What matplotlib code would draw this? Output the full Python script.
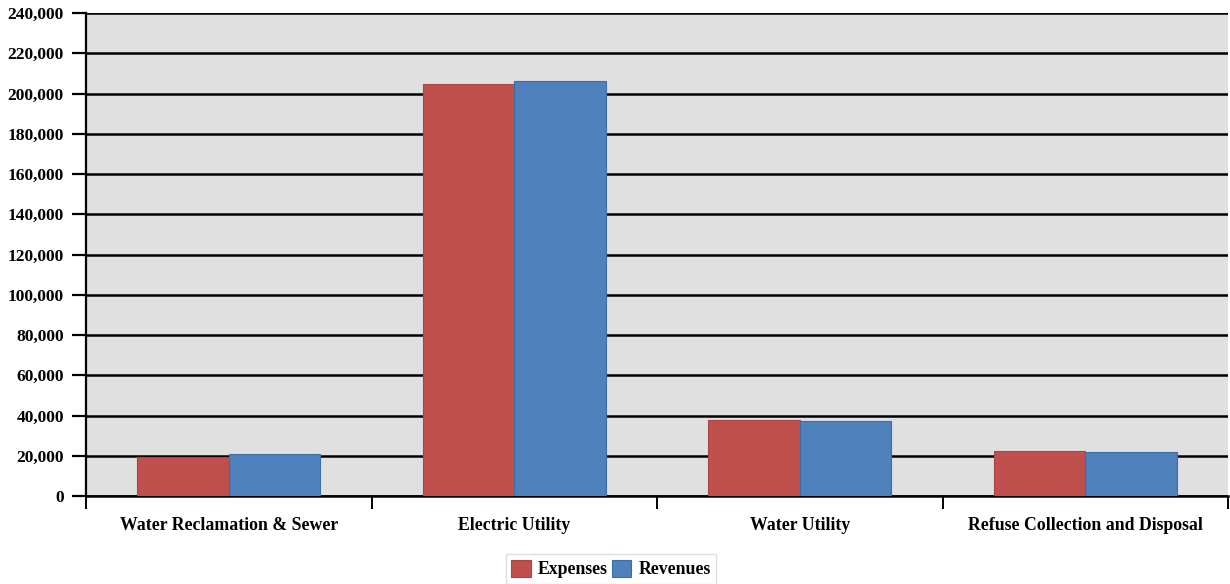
import matplotlib.pyplot as plt
import numpy as np
from matplotlib.ticker import FuncFormatter

categories = ['Water Reclamation & Sewer', 'Electric Utility', 'Water Utility',
              'Refuse Collection and Disposal']
expenses = [19500, 204600, 37800, 22500]
revenues = [20700, 206200, 37100, 21900]

plt.rcParams['font.family'] = ['Liberation Serif', 'DejaVu Serif']
plt.rcParams['font.weight'] = 'bold'

fig = plt.figure(figsize=(12.3, 5.84), dpi=100)
ax = fig.add_axes([86 / 1230, 88 / 584, 1142 / 1230, 483 / 584])
ax.set_facecolor('#e0e0e0')

x = np.arange(len(categories))
w = 0.32
ax.bar(x - w / 2, expenses, w, color='#c0504d', edgecolor='#a94543', linewidth=0.8,
       label='Expenses', zorder=3)
ax.bar(x + w / 2, revenues, w, color='#4f81bd', edgecolor='#3f6ea6', linewidth=0.8,
       label='Revenues', zorder=3)

ax.set_xlim(-0.5, len(categories) - 0.5)
ax.set_ylim(0, 240000)
ax.set_yticks(np.arange(0, 240001, 20000))
ax.yaxis.set_major_formatter(FuncFormatter(lambda v, p: f'{int(v):,}'))
ax.grid(axis='y', color='black', linewidth=1.8, zorder=1)
ax.set_axisbelow(True)

ax.set_xticks(x)
ax.set_xticklabels(categories, fontsize=12.8, fontweight='bold')
ax.set_xticks(np.arange(-0.5, len(categories), 1), minor=True)
ax.tick_params(axis='x', which='major', length=0, pad=15)
ax.tick_params(axis='x', which='minor', length=9, width=1.4, direction='out')
ax.tick_params(axis='y', length=10, width=1.6, direction='out', labelsize=12.6, pad=6)

for s in ['top', 'right']:
    ax.spines[s].set_visible(False)
ax.spines['left'].set_linewidth(1.6)
ax.spines['bottom'].set_linewidth(1.8)

leg = fig.legend(loc='center', bbox_to_anchor=(611 / 1230, 1 - 569 / 584), ncol=2,
                 frameon=True, fancybox=False, edgecolor='#d8d8d8', fontsize=12.8,
                 handlelength=1.1, handleheight=1.1, handletextpad=0.4,
                 columnspacing=0.2, borderpad=0.3)

fig.savefig('out.png', dpi=100, facecolor='white')
